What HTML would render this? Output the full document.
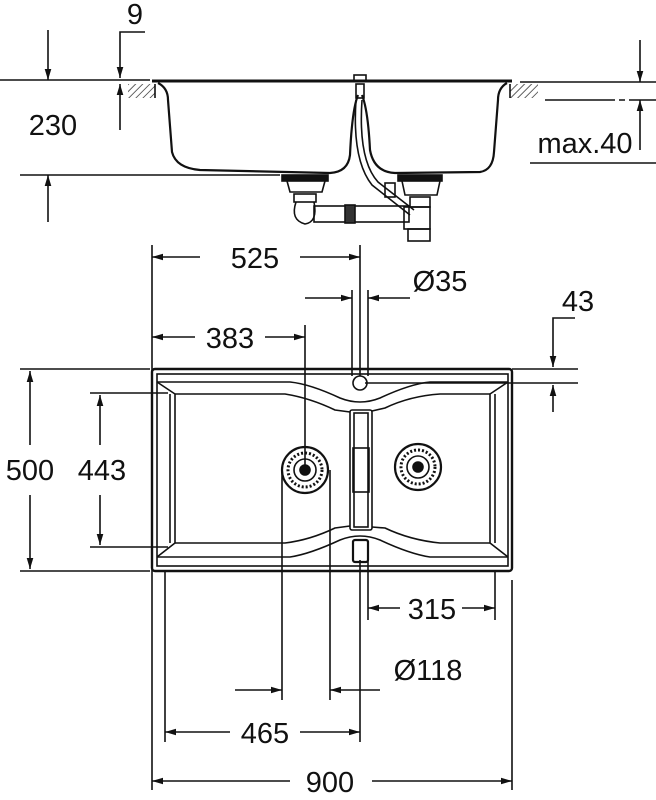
<!DOCTYPE html>
<html><head><style>
html,body{margin:0;padding:0;background:#fff;}
svg{display:block;}
text{font-family:"Liberation Sans",sans-serif;font-size:29px;fill:#111;}
</style></head><body>
<svg width="656" height="800" viewBox="0 0 656 800" xmlns="http://www.w3.org/2000/svg">
<defs>
<marker id="a" viewBox="0 0 10 10" refX="10" refY="5" markerWidth="11" markerHeight="11" markerUnits="userSpaceOnUse" orient="auto-start-reverse"><path d="M0,2 L10,5 L0,8 z" fill="#111"/></marker>
<pattern id="h" width="5" height="5" patternUnits="userSpaceOnUse" patternTransform="rotate(45)"><line x1="0" y1="0" x2="0" y2="5" stroke="#111" stroke-width="1.3"/></pattern>
</defs>
<g stroke="#111" stroke-width="1.6" fill="none">
<!-- TOP VIEW -->
<line x1="0" y1="80" x2="150" y2="80"/>
<line x1="20" y1="175" x2="280" y2="175"/>
<line x1="48" y1="30" x2="48" y2="80" marker-end="url(#a)"/>
<line x1="48" y1="222" x2="48" y2="175" marker-end="url(#a)"/>
<polyline points="145,32 120,32 120,78" marker-end="url(#a)"/>
<line x1="120" y1="130" x2="120" y2="84" marker-end="url(#a)"/>
<rect x="128" y="84" width="27" height="14" fill="url(#h)" stroke="none"/>
<rect x="510" y="84" width="28" height="14" fill="url(#h)" stroke="none"/>
<line x1="510" y1="84" x2="510" y2="98"/><line x1="155" y1="84" x2="155" y2="98"/>
<line x1="152" y1="81" x2="512" y2="81" stroke-width="3"/>
<line x1="520" y1="82" x2="656" y2="82"/>
<line x1="545" y1="100" x2="656" y2="100" stroke-dasharray="70 4 6 4"/>
<line x1="640" y1="40" x2="640" y2="82" marker-end="url(#a)"/>
<line x1="640" y1="150" x2="640" y2="100" marker-end="url(#a)"/>
<line x1="530" y1="163" x2="656" y2="163"/>
<path d="M158,83 Q168,88 168,100 L172,152 Q176,168 200,170 L330,173 Q348,172 350,155 Q352,110 358,95" stroke-width="2.2"/>
<path d="M362,95 Q368,110 370,150 Q374,172 395,173 L480,172 Q493,170 494,152 L498,100 Q498,88 507,83" stroke-width="2.2"/>
<rect x="354" y="75" width="12" height="6"/>
<rect x="356" y="84" width="8" height="14"/>
<path d="M356,100 Q352,160 372,185 L410,215 M362,100 Q358,160 378,182 L414,210"/>
<rect x="282" y="175" width="46" height="6" fill="#111"/>
<path d="M287,181 L290,192 L322,192 L325,181"/>
<rect x="294" y="194" width="22" height="8"/>
<path d="M296,202 Q290,220 305,224 Q318,222 314,202"/>
<rect x="314" y="206" width="95" height="16"/>
<rect x="345" y="205" width="10" height="18" fill="#333"/>
<rect x="398" y="175" width="44" height="6" fill="#111"/>
<path d="M402,181 L405,195 L437,195 L440,181"/>
<rect x="410" y="197" width="20" height="10"/>
<rect x="404" y="207" width="26" height="22"/>
<rect x="408" y="229" width="22" height="12"/>
<rect x="385" y="183" width="10" height="14"/>
<!-- PLAN DIMENSIONS -->
<line x1="152" y1="245" x2="152" y2="790"/>
<line x1="512" y1="580" x2="512" y2="790"/>
<line x1="360" y1="245" x2="360" y2="376"/>
<line x1="360" y1="560" x2="360" y2="742"/>
<line x1="352" y1="290" x2="352" y2="376"/>
<line x1="368" y1="290" x2="368" y2="376"/>
<line x1="368" y1="560" x2="368" y2="620"/>
<line x1="495" y1="572" x2="495" y2="620"/>
<line x1="165" y1="572" x2="165" y2="742"/>
<line x1="305" y1="325" x2="305" y2="470"/>
<line x1="282" y1="470" x2="282" y2="700"/>
<line x1="330" y1="470" x2="330" y2="700"/>
<line x1="200" y1="257" x2="152" y2="257" marker-end="url(#a)"/>
<line x1="300" y1="257" x2="360" y2="257" marker-end="url(#a)"/>
<line x1="305" y1="298" x2="352" y2="298" marker-end="url(#a)"/>
<line x1="410" y1="298" x2="368" y2="298" marker-end="url(#a)"/>
<line x1="195" y1="337" x2="152" y2="337" marker-end="url(#a)"/>
<line x1="265" y1="337" x2="305" y2="337" marker-end="url(#a)"/>
<line x1="512" y1="369" x2="578" y2="369"/>
<line x1="365" y1="383" x2="578" y2="383"/>
<polyline points="575,318 553,318 553,367" marker-end="url(#a)"/>
<line x1="553" y1="412" x2="553" y2="385" marker-end="url(#a)"/>
<line x1="20" y1="369" x2="150" y2="369"/>
<line x1="20" y1="571" x2="150" y2="571"/>
<line x1="90" y1="393" x2="168" y2="393"/>
<line x1="90" y1="547" x2="168" y2="547"/>
<line x1="30" y1="445" x2="30" y2="371" marker-end="url(#a)"/>
<line x1="30" y1="495" x2="30" y2="569" marker-end="url(#a)"/>
<line x1="100" y1="445" x2="100" y2="395" marker-end="url(#a)"/>
<line x1="100" y1="495" x2="100" y2="545" marker-end="url(#a)"/>
<line x1="400" y1="608" x2="368" y2="608" marker-end="url(#a)"/>
<line x1="462" y1="608" x2="495" y2="608" marker-end="url(#a)"/>
<line x1="235" y1="690" x2="282" y2="690" marker-end="url(#a)"/>
<line x1="380" y1="690" x2="330" y2="690" marker-end="url(#a)"/>
<line x1="230" y1="732" x2="165" y2="732" marker-end="url(#a)"/>
<line x1="300" y1="732" x2="360" y2="732" marker-end="url(#a)"/>
<line x1="290" y1="781" x2="152" y2="781" marker-end="url(#a)"/>
<line x1="372" y1="781" x2="512" y2="781" marker-end="url(#a)"/>
<!-- PLAN SINK -->
<rect x="152" y="369" width="360" height="202" rx="3" stroke-width="2.4"/>
<rect x="157" y="374" width="351" height="192" stroke-width="1.6"/>
<path d="M157,382 L290,382 Q310,384 340,398 Q360,406 380,398 Q410,384 430,382 L508,382"/>
<path d="M175,394 L285,394 Q310,398 335,410 L350,412 M372,411 L385,408 Q410,396 440,394 L490,394"/>
<path d="M175,543 L285,543 Q310,540 335,528 L350,526 M372,527 L385,528 Q410,540 440,543 L490,543"/>
<path d="M157,557 L290,557 Q310,554 340,540 Q360,532 380,540 Q410,554 430,557 L508,557"/>
<path d="M157,382 L175,394 L175,543 L157,557 M508,382 L490,394 L490,543 L508,557"/>
<line x1="170" y1="394" x2="170" y2="543"/>
<line x1="495" y1="394" x2="495" y2="543"/>
<rect x="350" y="410" width="22" height="120" rx="2"/>
<rect x="354" y="413" width="14" height="114"/>
<rect x="353" y="448" width="16" height="44"/>
<rect x="353" y="540" width="15" height="22" rx="2" stroke-width="2.2"/>
<circle cx="360" cy="383" r="7"/>
<circle cx="305" cy="470" r="23" stroke-width="2.2"/>
<circle cx="305" cy="470" r="17" stroke-width="3" stroke-dasharray="2 2"/>
<circle cx="305" cy="470" r="11"/>
<circle cx="305" cy="470" r="5" fill="#111"/>
<circle cx="418" cy="467" r="23" stroke-width="2.2"/>
<circle cx="418" cy="467" r="17" stroke-width="3" stroke-dasharray="2 2"/>
<circle cx="418" cy="467" r="11"/>
<circle cx="418" cy="467" r="5" fill="#111"/>
</g>
<text x="135" y="24" text-anchor="middle">9</text>
<text x="53" y="135" text-anchor="middle">230</text>
<text x="585" y="153" text-anchor="middle">max.40</text>
<text x="255" y="268" text-anchor="middle">525</text>
<text x="440" y="291" text-anchor="middle">Ø35</text>
<text x="230" y="348" text-anchor="middle">383</text>
<text x="578" y="311" text-anchor="middle">43</text>
<text x="30" y="480" text-anchor="middle">500</text>
<text x="102" y="480" text-anchor="middle">443</text>
<text x="432" y="619" text-anchor="middle">315</text>
<text x="428" y="680" text-anchor="middle">Ø118</text>
<text x="265" y="743" text-anchor="middle">465</text>
<text x="330" y="792" text-anchor="middle">900</text>
</svg>
</body></html>
